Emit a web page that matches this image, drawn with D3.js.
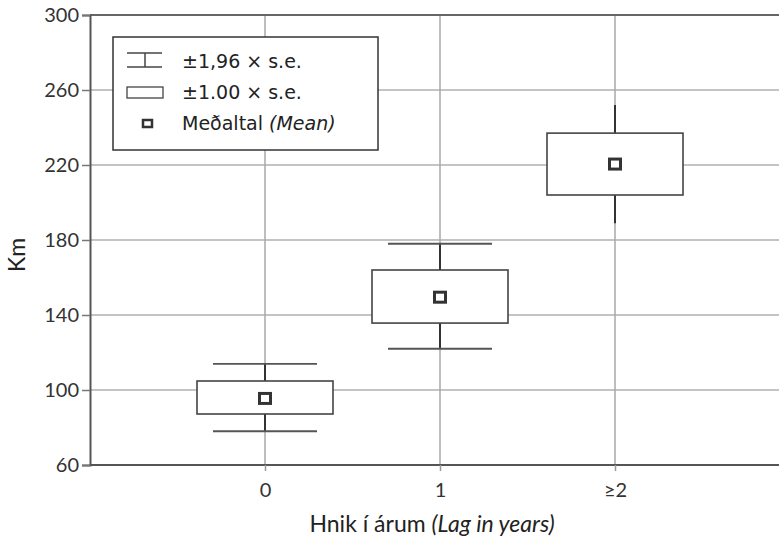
<!DOCTYPE html>
<html>
<head>
<meta charset="utf-8">
<script src="https://cdnjs.cloudflare.com/ajax/libs/d3/7.8.5/d3.min.js"></script>
<style>
  body { margin: 0; background: #fff; }
  svg { display: block; }
  .tick text { font-family: Lato, "DejaVu Sans", sans-serif; font-size: 20px; fill: #333; }
</style>
</head>
<body>
<div id="chart"></div>
<script>
// data
var categories = ['0', '1', '\u22652'];
var means    = [95.5, 149.5, 220.5];
var boxLow   = [87.2, 135.7, 204];
var boxHigh  = [104.8, 164, 237];
var whiskLow = [78, 122, 189];
var whiskHigh= [113.9, 178, 252];
var showCaps = [true, true, false];
var yTicks   = [60, 100, 140, 180, 220, 260, 300];

var W = 779, H = 538;
var margins = { left: 90, top: 15, right: -11, bottom: 73 };
var w = W - margins.left - margins.right,
    h = H - margins.top - margins.bottom;

var svg = d3.select('#chart').append('svg')
  .attr('width', W).attr('height', H);

var g = svg.append('g')
  .attr('transform', 'translate(' + margins.left + ',' + margins.top + ')');

var xScale = d3.scalePoint().domain(categories).range([0, w]).padding(1);
var yScale = d3.scaleLinear().domain([60, 300]).range([h, 0]);

// grid
g.append('g').selectAll('line.hg').data(yTicks.slice(1, -1)).enter()
  .append('line')
  .attr('x1', 0).attr('x2', w)
  .attr('y1', function(d) { return yScale(d); })
  .attr('y2', function(d) { return yScale(d); })
  .attr('stroke', '#b0b0b0').attr('stroke-width', 1.5);
g.append('g').selectAll('line.vg').data(categories).enter()
  .append('line')
  .attr('x1', function(d) { return xScale(d); })
  .attr('x2', function(d) { return xScale(d); })
  .attr('y1', 0).attr('y2', h)
  .attr('stroke', '#a8a8a8').attr('stroke-width', 1.5);

// top border
g.append('line').attr('x1', 0).attr('x2', w).attr('y1', 0).attr('y2', 0)
  .attr('stroke', '#666').attr('stroke-width', 2);

var boxHalf = 68, capHalf = 52;
var items = categories.map(function(c, i) {
  return { c: c, m: means[i], lo: boxLow[i], hi: boxHigh[i], wl: whiskLow[i], wh: whiskHigh[i], cap: showCaps[i] };
});

var grp = g.append('g').selectAll('g').data(items).enter().append('g');

// whiskers
grp.append('line')
  .attr('x1', function(d) { return xScale(d.c); }).attr('x2', function(d) { return xScale(d.c); })
  .attr('y1', function(d) { return yScale(d.wh); }).attr('y2', function(d) { return yScale(d.wl); })
  .attr('stroke', '#333').attr('stroke-width', 2);
grp.filter(function(d) { return d.cap; }).each(function(d) {
  var s = d3.select(this);
  [d.wl, d.wh].forEach(function(v) {
    s.append('line')
      .attr('x1', xScale(d.c) - capHalf).attr('x2', xScale(d.c) + capHalf)
      .attr('y1', yScale(v)).attr('y2', yScale(v))
      .attr('stroke', '#555').attr('stroke-width', 1.8);
  });
});
// boxes
grp.append('rect')
  .attr('x', function(d) { return xScale(d.c) - boxHalf; })
  .attr('width', boxHalf * 2)
  .attr('y', function(d) { return yScale(d.hi); })
  .attr('height', function(d) { return yScale(d.lo) - yScale(d.hi); })
  .attr('fill', '#fff').attr('stroke', '#444').attr('stroke-width', 1.6);
// means
grp.append('rect')
  .attr('x', function(d) { return xScale(d.c) - 5.5; })
  .attr('y', function(d) { return yScale(d.m) - 5; })
  .attr('width', 11).attr('height', 10)
  .attr('fill', '#fff').attr('stroke', '#333').attr('stroke-width', 3);

// axes
var yAxis = d3.axisLeft(yScale).tickValues(yTicks).tickSize(8).tickPadding(3);
var ya = g.append('g').call(yAxis);
ya.select('.domain').attr('stroke', '#555').attr('stroke-width', 2);
ya.selectAll('.tick line').attr('stroke', '#777').attr('stroke-width', 1.5);

var xAxis = d3.axisBottom(xScale).tickSize(6).tickPadding(12);
var xa = g.append('g').attr('transform', 'translate(0,' + h + ')').call(xAxis);
xa.select('.domain').attr('d', 'M0,0H' + w).attr('stroke', '#555').attr('stroke-width', 2);
xa.selectAll('.tick line').attr('stroke', '#999').attr('stroke-width', 1.5);
xa.selectAll('.tick text').attr('dy', null).attr('y', 32);

// axis titles
svg.append('text')
  .attr('transform', 'translate(25,' + (margins.top + yScale(172)) + ') rotate(-90)')
  .attr('text-anchor', 'middle')
  .style('font-family', 'Lato, sans-serif').style('font-size', '23px').style('fill', '#222')
  .text('Km');

var xt = svg.append('text')
  .attr('x', 432).attr('y', 532)
  .attr('text-anchor', 'middle')
  .style('font-family', 'Lato, sans-serif').style('font-size', '23px').style('fill', '#222');
xt.append('tspan').text('Hnik \u00ed \u00e1rum ');
xt.append('tspan').style('font-style', 'italic').text('(Lag in years)');

// legend
var lg = svg.append('g');
lg.append('rect').attr('x', 113).attr('y', 37).attr('width', 265).attr('height', 113)
  .attr('fill', '#fff').attr('stroke', '#333').attr('stroke-width', 1.5);
lg.append('line').attr('x1', 127).attr('x2', 162).attr('y1', 53).attr('y2', 53).attr('stroke', '#444').attr('stroke-width', 1.5);
lg.append('line').attr('x1', 127).attr('x2', 162).attr('y1', 67).attr('y2', 67).attr('stroke', '#444').attr('stroke-width', 1.5);
lg.append('line').attr('x1', 145).attr('x2', 145).attr('y1', 53).attr('y2', 67).attr('stroke', '#444').attr('stroke-width', 1.5);
lg.append('rect').attr('x', 127).attr('y', 87).attr('width', 36).attr('height', 11)
  .attr('fill', '#fff').attr('stroke', '#444').attr('stroke-width', 1.3);
lg.append('rect').attr('x', 143).attr('y', 120).attr('width', 9).attr('height', 7)
  .attr('fill', '#fff').attr('stroke', '#333').attr('stroke-width', 2.5);
var legendText = ['\u00b11,96 \u00d7 s.e.', '\u00b11.00 \u00d7 s.e.'];
var legendFont = '"DejaVu Sans", sans-serif';
legendText.forEach(function(t, i) {
  lg.append('text').attr('x', 182).attr('y', 68 + i * 31)
    .style('font-family', legendFont).style('font-size', '19px').style('fill', '#222')
    .text(t);
});
var lt = lg.append('text').attr('x', 182).attr('y', 130)
  .style('font-family', legendFont).style('font-size', '19px').style('fill', '#222');
lt.append('tspan').text('Me\u00f0altal ');
lt.append('tspan').style('font-style', 'italic').text('(Mean)');
</script>
</body>
</html>
